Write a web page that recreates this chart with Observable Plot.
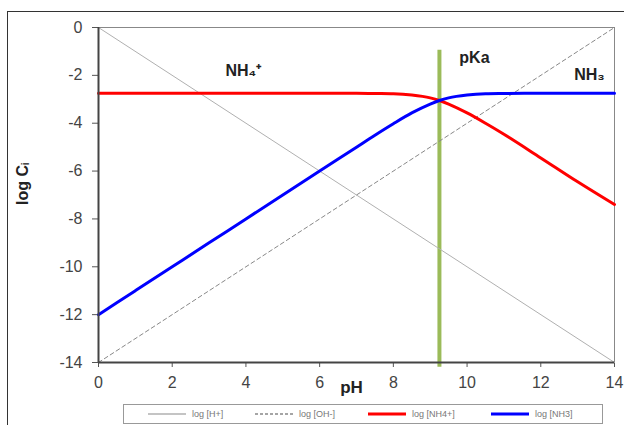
<!DOCTYPE html>
<html><head><meta charset="utf-8">
<script src="https://cdn.jsdelivr.net/npm/d3@7"></script>
<script src="https://cdn.jsdelivr.net/npm/@observablehq/plot@0.6"></script>
<style>
body{margin:0;background:#fff;font-family:"Liberation Sans",Arial,sans-serif;}
#wrap{position:relative;width:624px;height:425px;overflow:hidden;background:#fff;}
#frame{position:absolute;left:7px;top:11px;width:660px;height:460px;border-left:1px solid #333;border-top:1px solid #333;}
#chart{position:absolute;left:0;top:0;}
#legend{position:absolute;left:123px;top:404px;width:478px;height:18px;border:1px solid #999;background:#fff;font-size:9px;color:#777;}
.item{position:absolute;top:0;height:18px;display:flex;align-items:center;white-space:nowrap;}
.item svg{margin-right:6px;}
</style>
</head><body>
<div id="wrap"><div id="frame"></div><div id="chart"></div><div id="legend"></div></div>
<script>
// pH grid
const pH      = [0, 1, 2, 3, 4, 5, 6, 7, 7.5, 8, 8.5, 9, 9.25, 9.5, 10, 10.5, 11, 12, 13, 14];
const logNH4  = [-2.75,-2.75,-2.75,-2.75,-2.75,-2.75,-2.75,-2.75,-2.76,-2.77,-2.82,-2.94,-3.05,-3.2,-3.57,-4.0,-4.46,-5.45,-6.45,-7.4];
const logNH3  = [-12,-11,-10,-9,-8,-7,-6,-5,-4.5,-4.02,-3.57,-3.2,-3.05,-2.94,-2.82,-2.77,-2.76,-2.75,-2.75,-2.75];
const pHEnds  = [0, 14];
const logH    = [0, -14];
const logOH   = [-14, 0];
const pKa     = 9.25;
const xTicks  = [0, 2, 4, 6, 8, 10, 12, 14];
const yTicks  = [0, -2, -4, -6, -8, -10, -12, -14];
const labels  = [
  {x: 3.93, y: -1.8, text: "NH\u2084\u207A"},
  {x: 10.2, y: -1.25, text: "pKa"},
  {x: 13.32, y: -2.0, text: "NH\u2083"}
];
const legendItems = [
  {name: "log [H+]", color: "#b0b0b0", width: 1.5, dash: null},
  {name: "log [OH-]", color: "#888", width: 1.5, dash: "3,2"},
  {name: "log [NH4+]", color: "#ff0000", width: 3, dash: null},
  {name: "log [NH3]", color: "#0000ff", width: 3, dash: null}
];

const nh4 = pH.map((p, i) => ({x: p, y: logNH4[i]}));
const nh3 = pH.map((p, i) => ({x: p, y: logNH3[i]}));
const hLine = pHEnds.map((p, i) => ({x: p, y: logH[i]}));
const ohLine = pHEnds.map((p, i) => ({x: p, y: logOH[i]}));

const chart = Plot.plot({
  width: 624, height: 400,
  marginLeft: 98, marginRight: 10, marginTop: 27, marginBottom: 38,
  style: {fontFamily: '"Liberation Sans", Arial, sans-serif', fontSize: "16px", color: "#333", background: "transparent", overflow: "visible"},
  x: {domain: [0, 14], label: null},
  y: {domain: [-14, 0], label: null},
  marks: [
    Plot.axisX({ticks: xTicks, tickSize: 5, tickPadding: 9, fontSize: 16, stroke: "#555", fill: "#444", label: null}),
    Plot.axisY({ticks: yTicks, tickSize: 6, tickPadding: 10, fontSize: 16, stroke: "#555", fill: "#444", tickFormat: d => String(d), label: null}),
    Plot.ruleY([0], {stroke: "#888", strokeWidth: 1}),
    Plot.ruleX([14], {stroke: "#888", strokeWidth: 1}),
    Plot.ruleX([pKa], {y1: -0.95, y2: -14.2, stroke: "#9bbb59", strokeWidth: 4}),
    Plot.line(hLine, {x: "x", y: "y", stroke: "#b0b0b0", strokeWidth: 1}),
    Plot.line(ohLine, {x: "x", y: "y", stroke: "#888", strokeWidth: 1, strokeDasharray: "4,3"}),
    Plot.line(nh4, {x: "x", y: "y", stroke: "#ff0000", strokeWidth: 3, curve: "monotone-x"}),
    Plot.line(nh3, {x: "x", y: "y", stroke: "#0000ff", strokeWidth: 3, curve: "monotone-x"}),
    Plot.ruleX([0], {stroke: "#444", strokeWidth: 2}),
    Plot.ruleY([-14], {stroke: "#444", strokeWidth: 2}),
    Plot.text(labels, {x: "x", y: "y", text: "text", fontSize: 16, fontWeight: "bold", fill: "#222"}),
    Plot.text(["pH"], {frameAnchor: "bottom", dy: 30, fontSize: 17, fontWeight: "bold", fill: "#222", dx: -5}),
    Plot.text(["log C\u1D62"], {frameAnchor: "left", dx: -76, rotate: -90, fontSize: 16, fontWeight: "bold", fill: "#222", dy: 10})
  ]
});
document.getElementById("chart").appendChild(chart);

const legend = document.getElementById("legend");
const lefts = [24, 131, 244, 367];
legendItems.forEach((it, i) => {
  const d = document.createElement("div");
  d.className = "item";
  d.style.left = lefts[i] + "px";
  const w = 38;
  d.innerHTML = `<svg width="${w}" height="6"><line x1="0" x2="${w}" y1="3" y2="3" stroke="${it.color}" stroke-width="${it.width}" ${it.dash ? `stroke-dasharray="${it.dash}"` : ""}/></svg><span>${it.name}</span>`;
  legend.appendChild(d);
});
</script>
</body></html>
